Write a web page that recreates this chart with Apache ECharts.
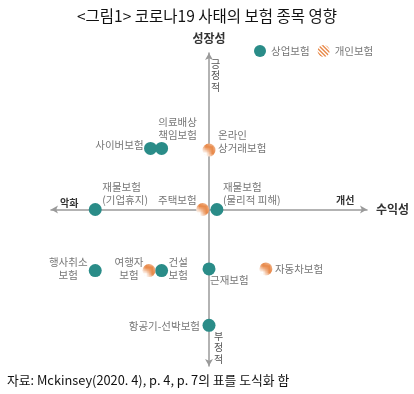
<!DOCTYPE html>
<html><head><meta charset="utf-8">
<script src="https://cdn.jsdelivr.net/npm/echarts@6/dist/echarts.min.js"></script>
<style>html,body{margin:0;padding:0;background:#fff}#c{width:414px;height:394px}</style>
</head><body><div id="c"></div>
<script>
// ---- data ----
const seriesNames = ['상업보험', '개인보험'];
const commercialNames = ['사이버보험', '의료배상\n책임보험', '재물보험\n(기업휴지)', '재물보험\n(물리적 피해)', '행사취소\n보험', '건설\n보험', '근재보험', '항공기-선박보험'];
const commercialX = [-0.37, -0.30, -0.72, 0.05, -0.72, -0.30, 0.0, 0.0];
const commercialY = [0.39, 0.39, 0.0, 0.0, -0.39, -0.39, -0.38, -0.74];
const personalNames = ['온라인\n상거래보험', '주택보험', '여행자\n보험', '자동차보험'];
const personalX = [0.0, -0.04, -0.38, 0.36];
const personalY = [0.38, 0.0, -0.39, -0.38];
const axisNames = { x: '수익성', y: '성장성' };
const directionText = { left: '악화', right: '개선', up: '긍정적', down: '부정적' };
const titleText = '<그림1> 코로나19 사태의 보험 종목 영향';
const sourceText = '자료: Mckinsey(2020. 4), p. 4, p. 7의 표를 도식화 함';

// ---- styles ----
const S = 13, H = S / 2;
const teal = '#2a8c88';
const orange = [233, 139, 76];
const labelFont = 'Noto Sans CJK KR';
function lab(dx, dy, align, va) {
  return { show: true, formatter: '{b}', position: [H + dx, H + dy], align: align, verticalAlign: va };
}
const labelPlace = {
  '사이버보험': lab(-7, -3, 'right', 'middle'),
  '의료배상\n책임보험': lab(16, -7, 'center', 'bottom'),
  '재물보험\n(기업휴지)': lab(7, -3, 'left', 'bottom'),
  '재물보험\n(물리적 피해)': lab(6, -3, 'left', 'bottom'),
  '행사취소\n보험': lab(-27, -2, 'center', 'middle'),
  '건설\n보험': lab(7, -2, 'left', 'middle'),
  '근재보험': lab(1, 5, 'left', 'top'),
  '항공기-선박보험': lab(-9, 1, 'right', 'middle'),
  '온라인\n상거래보험': lab(9, -22, 'left', 'top'),
  '주택보험': lab(-6, -9, 'right', 'middle'),
  '여행자\n보험': lab(-20, -2, 'center', 'middle'),
  '자동차보험': lab(9, 0, 'left', 'middle')
};

function hatch() {
  const n = 4;
  const c = document.createElement('canvas');
  c.width = n; c.height = n;
  const g = c.getContext('2d');
  const img = g.createImageData(n, n);
  for (let y = 0; y < n; y++) for (let x = 0; x < n; x++) {
    const k = (y * n + x) * 4;
    const on = ((x - y + n * 2) % n) < 2;
    img.data[k] = on ? orange[0] : 255;
    img.data[k + 1] = on ? orange[1] : 255;
    img.data[k + 2] = on ? orange[2] : 255;
    img.data[k + 3] = 255;
  }
  g.putImageData(img, 0, 0);
  return { image: c, repeat: 'repeat' };
}

function build(names, xs, ys) {
  return names.map((n, i) => ({ name: n, value: [xs[i], ys[i]], label: labelPlace[n] }));
}

const chart = echarts.init(document.getElementById('c'), null, { renderer: 'canvas' });
const axisCommon = {
  type: 'value', min: -1, max: 1,
  axisLine: { show: true, onZero: true, symbol: ['arrow', 'arrow'], symbolSize: [6, 7], lineStyle: { color: '#9a9a9a', width: 1.5 } },
  axisTick: { show: false }, axisLabel: { show: false }, splitLine: { show: false }
};
chart.setOption({
  backgroundColor: '#fff',
  animation: false,
  title: { text: titleText, left: 'center', top: 3, textStyle: { fontSize: 15.5, fontWeight: 'normal', color: '#111', fontFamily: labelFont } },
  legend: {
    left: 249, top: 40, itemWidth: 12, itemHeight: 12, itemGap: 8,
    textStyle: { color: '#777', fontSize: 10.5, fontFamily: labelFont },
    data: [{ name: seriesNames[0], icon: 'circle' }, { name: seriesNames[1], icon: 'circle' }]
  },
  grid: { left: 51, right: 47, top: 53, bottom: 28 },
  xAxis: Object.assign({}, axisCommon, { name: axisNames.x, nameLocation: 'end', nameGap: 9,
    nameTextStyle: { fontSize: 12, fontWeight: 'bold', color: '#333', fontFamily: labelFont } }),
  yAxis: Object.assign({}, axisCommon, { name: axisNames.y, nameLocation: 'end', nameGap: 9,
    nameTextStyle: { fontSize: 12, fontWeight: 'bold', color: '#333', fontFamily: labelFont } }),
  graphic: [
    { type: 'text', left: 60, top: 198, style: { text: directionText.left, fontSize: 10, fontWeight: 'bold', fill: '#333', fontFamily: labelFont } },
    { type: 'text', left: 336, top: 195, style: { text: directionText.right, fontSize: 10, fontWeight: 'bold', fill: '#333', fontFamily: labelFont } },
    { type: 'text', left: 211, top: 58, style: { text: directionText.up.split('').join('\n'), fontSize: 10, lineHeight: 11.5, fill: '#555', fontFamily: labelFont } },
    { type: 'text', left: 214, top: 330, style: { text: directionText.down.split('').join('\n'), fontSize: 10, lineHeight: 11.5, fill: '#555', fontFamily: labelFont } },
    { type: 'text', left: 7, top: 374, style: { text: sourceText, fontSize: 12.8, fill: '#111', fontFamily: labelFont } }
  ],
  series: [
    { name: seriesNames[0], type: 'scatter', symbolSize: S, itemStyle: { color: teal, opacity: 1 },
      label: { color: '#777', fontSize: 10.5, lineHeight: 13, fontFamily: labelFont },
      data: build(commercialNames, commercialX, commercialY) },
    { name: seriesNames[1], type: 'scatter', symbolSize: S, itemStyle: { color: hatch(), opacity: 1 },
      label: { color: '#777', fontSize: 10.5, lineHeight: 13, fontFamily: labelFont },
      data: build(personalNames, personalX, personalY) }
  ]
});
</script></body></html>
